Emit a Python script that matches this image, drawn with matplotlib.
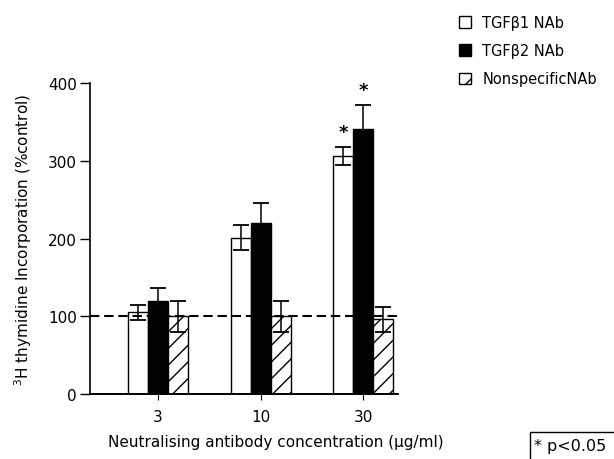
import matplotlib
matplotlib.use('Agg')
import matplotlib.pyplot as plt
import numpy as np
from matplotlib.patches import Rectangle

# Datos
concentraciones = ['3', '10', '30']
tgfb1 = [105, 201, 306]
tgfb1_err = [10, 16, 12]
tgfb2 = [119, 220, 341]
tgfb2_err = [17, 26, 31]
nonspec = [100, 100, 96]
nonspec_err = [20, 20, 16]
control = 100
significativo = [(0, 2), (1, 2)]  # (serie, grupo) con p<0.05

plt.rcParams['font.family'] = ['DejaVu Sans']

fig = plt.figure(figsize=(6.14, 4.6), dpi=100)
ax = fig.add_axes([90/614, 65/460, 308/614, 311/460])

x = np.arange(len(concentraciones))
w = 0.195
ekw = dict(ecolor='black', elinewidth=1.1, capsize=5.5, capthick=1.3)

b1 = ax.bar(x - w, tgfb1, w, yerr=tgfb1_err, color='white', edgecolor='black',
            linewidth=1, error_kw=ekw, label='TGF\u03b21 NAb', zorder=2)
b2 = ax.bar(x, tgfb2, w, yerr=tgfb2_err, color='black', edgecolor='black',
            linewidth=1, error_kw=ekw, label='TGF\u03b22 NAb', zorder=2)
b3 = ax.bar(x + w, nonspec, w, yerr=nonspec_err, color='white', edgecolor='black',
            hatch='//', linewidth=1, error_kw=ekw, label='NonspecificNAb', zorder=2)

# Linea de control (100%)
ax.axhline(control, color='black', ls=(0, (4.5, 2.3)), lw=1.5, zorder=3)

# Asteriscos de significancia
valores = [tgfb1, tgfb2, nonspec]
errores = [tgfb1_err, tgfb2_err, nonspec_err]
for s, g in significativo:
    ax.text(x[g] + (s - 1) * w, valores[s][g] + errores[s][g] + 8, '*',
            ha='center', va='bottom', fontsize=13, fontweight='bold')

ax.set_xlim(-0.663, 2.34)
ax.set_ylim(0, 400)
ax.set_yticks([0, 100, 200, 300, 400])
ax.set_xticks(x)
ax.set_xticklabels(concentraciones)
ax.spines['top'].set_visible(False)
ax.spines['right'].set_visible(False)
ax.spines['left'].set_linewidth(1.2)
ax.spines['bottom'].set_linewidth(1.4)
ax.tick_params(axis='y', length=7, width=1, pad=2.5, labelsize=11)
ax.tick_params(axis='x', length=4, width=0.8, pad=7, labelsize=11)
ax.patch.set_alpha(0)

fig.text(23/614, 1 - 240/460, '$^3$H thymidine Incorporation (%control)',
         rotation=90, ha='center', va='center', fontsize=11)
fig.text(276/614, 1 - 443/460, 'Neutralising antibody concentration (\u00b5g/ml)',
         ha='center', va='center', fontsize=11)

fig.legend(handles=[b1, b2, b3], loc='upper left', bbox_to_anchor=(459/614, 1 - 16/460),
           frameon=False, fontsize=10.5, handlelength=0.8, handleheight=0.8,
           handletextpad=0.8, labelspacing=0.9, borderaxespad=0, borderpad=0)

# Caja p<0.05
fig.add_artist(Rectangle((530/614, -0.1), 0.3, 27/460 + 0.1, transform=fig.transFigure,
                         fill=False, edgecolor='black', linewidth=1))
fig.text(534/614, 1 - 447/460, '* p<0.05', ha='left', va='center', fontsize=11.5)

fig.savefig('out.png', dpi=100)
